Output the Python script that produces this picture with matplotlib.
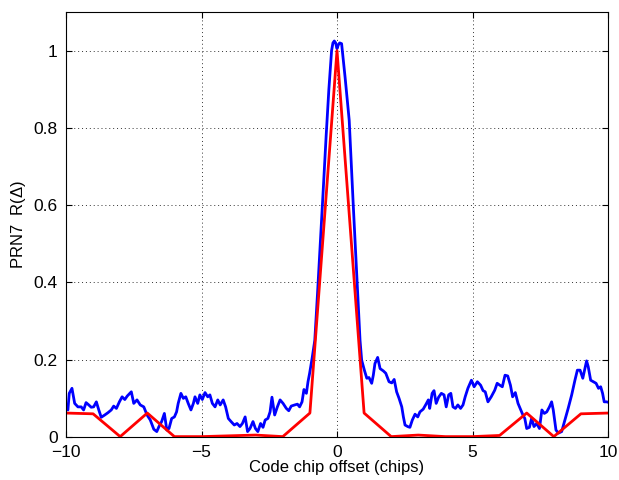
import numpy as np
import matplotlib.pyplot as plt

plt.rcParams['font.family'] = ['Liberation Sans', 'DejaVu Sans']
plt.rcParams['mathtext.fontset'] = 'custom'
plt.rcParams['mathtext.rm'] = 'Liberation Sans'

# 相关函数实测值（蓝）
meas_x = [-10.0, -9.93, -9.88, -9.78, -9.68, -9.56, -9.44, -9.35, -9.26, -9.16, -9.07, -8.98,
          -8.88, -8.79, -8.70, -8.57, -8.45, -8.33, -8.24, -8.14, -8.03, -7.93, -7.83, -7.74,
          -7.59, -7.50, -7.38, -7.26, -7.13, -7.01, -6.89, -6.76, -6.65, -6.57, -6.47, -6.37,
          -6.28, -6.20, -6.10, -6.00, -5.92, -5.86, -5.76, -5.67, -5.58, -5.49, -5.39, -5.30,
          -5.24, -5.14, -5.06, -4.97, -4.87, -4.77, -4.69, -4.60, -4.50, -4.40, -4.31, -4.20,
          -4.11, -4.01, -3.91, -3.79, -3.69, -3.58, -3.49, -3.39, -3.30, -3.21, -3.10, -3.01,
          -2.92, -2.82, -2.73, -2.65, -2.55, -2.47, -2.40, -2.30, -2.20, -2.10, -1.99, -1.87,
          -1.78, -1.69, -1.56, -1.46, -1.38, -1.29, -1.22, -1.13, -1.07, -1.01, -0.92, -0.82,
          -0.72, -0.60, -0.50, -0.40, -0.30, -0.20, -0.15, -0.10, -0.05, 0.0, 0.05, 0.10,
          0.17, 0.30, 0.45, 0.60, 0.75, 0.85, 0.91, 1.01, 1.10, 1.18, 1.28, 1.34, 1.40, 1.50,
          1.59, 1.71, 1.80, 1.92, 2.02, 2.11, 2.20, 2.29, 2.39, 2.45, 2.51, 2.61, 2.69, 2.78,
          2.88, 2.98, 3.06, 3.18, 3.27, 3.37, 3.42, 3.51, 3.58, 3.66, 3.75, 3.85, 3.95, 4.03,
          4.12, 4.20, 4.28, 4.37, 4.46, 4.56, 4.65, 4.73, 4.83, 4.96, 5.06, 5.18, 5.30, 5.39,
          5.47, 5.57, 5.69, 5.82, 5.91, 6.01, 6.10, 6.20, 6.30, 6.40, 6.48, 6.58, 6.68, 6.78,
          6.86, 6.93, 7.00, 7.10, 7.18, 7.27, 7.37, 7.47, 7.56, 7.65, 7.74, 7.84, 7.92, 7.98,
          8.08, 8.17, 8.29, 8.41, 8.53, 8.66, 8.78, 8.87, 8.97, 9.07, 9.15, 9.21, 9.27, 9.36,
          9.46, 9.56, 9.65, 9.73, 9.80, 9.86, 9.95, 10.0]
meas_r = [0.080, 0.070, 0.113, 0.126, 0.087, 0.078, 0.078, 0.070, 0.089, 0.083, 0.077, 0.078,
          0.091, 0.070, 0.051, 0.057, 0.063, 0.070, 0.080, 0.074, 0.091, 0.104, 0.097, 0.106,
          0.117, 0.087, 0.096, 0.083, 0.078, 0.057, 0.044, 0.020, 0.014, 0.027, 0.040, 0.061,
          0.018, 0.022, 0.048, 0.052, 0.065, 0.087, 0.113, 0.100, 0.104, 0.087, 0.070, 0.087,
          0.104, 0.087, 0.109, 0.097, 0.115, 0.104, 0.109, 0.087, 0.078, 0.096, 0.083, 0.096,
          0.078, 0.048, 0.040, 0.031, 0.035, 0.027, 0.035, 0.052, 0.014, 0.022, 0.040, 0.022,
          0.014, 0.035, 0.025, 0.044, 0.048, 0.065, 0.103, 0.057, 0.078, 0.096, 0.087, 0.074,
          0.068, 0.080, 0.083, 0.085, 0.078, 0.091, 0.123, 0.113, 0.143, 0.165, 0.203, 0.250,
          0.370, 0.520, 0.650, 0.780, 0.900, 1.000, 1.020, 1.025, 1.020, 1.005, 1.015, 1.020,
          1.018, 0.930, 0.820, 0.600, 0.390, 0.250, 0.199, 0.173, 0.152, 0.154, 0.139, 0.160,
          0.190, 0.206, 0.177, 0.171, 0.165, 0.143, 0.140, 0.149, 0.117, 0.100, 0.078, 0.052,
          0.031, 0.027, 0.025, 0.044, 0.059, 0.052, 0.065, 0.072, 0.083, 0.096, 0.074, 0.113,
          0.120, 0.087, 0.103, 0.113, 0.109, 0.078, 0.109, 0.113, 0.078, 0.074, 0.083, 0.074,
          0.083, 0.104, 0.126, 0.147, 0.130, 0.143, 0.134, 0.120, 0.117, 0.091, 0.104, 0.121,
          0.139, 0.134, 0.130, 0.160, 0.158, 0.134, 0.104, 0.115, 0.087, 0.070, 0.057, 0.048,
          0.022, 0.025, 0.048, 0.027, 0.035, 0.022, 0.070, 0.061, 0.065, 0.078, 0.091, 0.070,
          0.018, 0.010, 0.014, 0.044, 0.074, 0.109, 0.147, 0.173, 0.173, 0.152, 0.177, 0.197,
          0.182, 0.147, 0.143, 0.139, 0.126, 0.130, 0.113, 0.091, 0.091, 0.090]

# 理论自相关（红），整码片点
lag = np.arange(-10, 11)
theory_r = [0.062, 0.060, 0.001, 0.062, 0.001, 0.001, 0.003, 0.005, 0.001, 0.062, 1.0,
            0.062, 0.001, 0.005, 0.001, 0.001, 0.004, 0.062, 0.001, 0.060, 0.062]

fig = plt.figure(figsize=(6.19, 4.8), dpi=100)
ax = fig.add_axes([66 / 619, 1 - 437 / 480, 542 / 619, 425 / 480])

ax.plot(meas_x, meas_r, color='#0000ff', lw=2.0)
ax.plot(lag, theory_r, color='#ff0000', lw=2.0)

ax.set_xlim(-10, 10)
ax.set_ylim(0, 1.1)
ax.set_xticks([-10, -5, 0, 5, 10])
ax.set_xticklabels(['\u221210', '\u22125', '0', '5', '10'])
ax.set_yticks([0, 0.2, 0.4, 0.6, 0.8, 1])
ax.set_yticklabels(['0', '0.2', '0.4', '0.6', '0.8', '1'])
ax.tick_params(direction='in', top=True, right=True, length=4, width=0.8,
               labelsize=12.5)
ax.tick_params(axis='x', pad=6)
ax.tick_params(axis='y', pad=6)
ax.grid(True, linestyle=(0, (1, 3)), color='#333333', lw=0.7)
for s in ax.spines.values():
    s.set_linewidth(0.8)

ax.set_xlabel('Code chip offset (chips)', fontsize=12, labelpad=0)
ax.set_ylabel('PRN7  R($\\Delta$)', fontsize=12, labelpad=4)

fig.savefig('out.png', dpi=100)
